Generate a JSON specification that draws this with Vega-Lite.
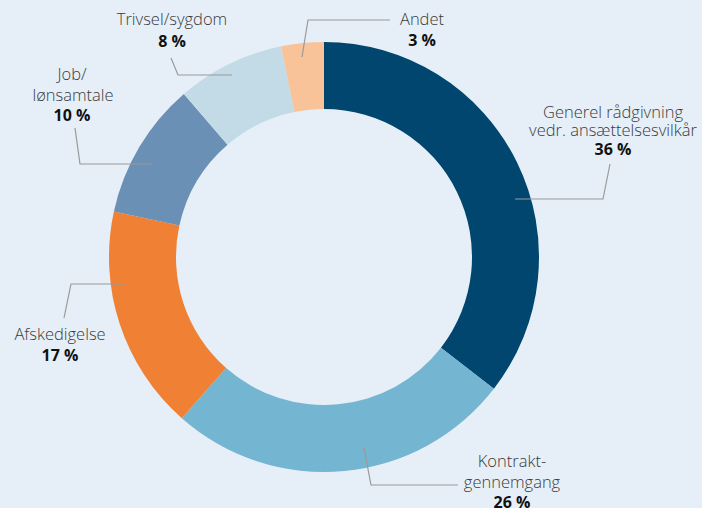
{
  "$schema": "https://vega.github.io/schema/vega-lite/v6.json",
  "width": 648,
  "height": 502,
  "autosize": {"type": "none"},
  "padding": {"left": 0, "top": 6, "right": 54, "bottom": 0},
  "background": "#e6eff7",
  "config": {"view": {"stroke": null}, "font": "Open Sans"},
  "datasets": {
    "slices": [
      {"idx": 1, "cat": "Generel rådgivning vedr. ansættelsesvilkår", "value": 35.5},
      {"idx": 2, "cat": "Kontraktgennemgang", "value": 26.0},
      {"idx": 3, "cat": "Afskedigelse", "value": 16.9},
      {"idx": 4, "cat": "Job/lønsamtale", "value": 10.3},
      {"idx": 5, "cat": "Trivsel/sygdom", "value": 8.1},
      {"idx": 6, "cat": "Andet", "value": 3.2}
    ],
    "labels": [
      {"x": 98, "y": 237, "text": "Andet"},
      {"x": -152, "y": 237, "text": "Trivsel/sygdom"},
      {"x": -252, "y": 182, "text": "Job/"},
      {"x": -251, "y": 161, "text": "lønsamtale"},
      {"x": 289, "y": 144, "text": "Generel rådgivning"},
      {"x": 289, "y": 126, "text": "vedr. ansættelsesvilkår"},
      {"x": -264, "y": -78, "text": "Afskedigelse"},
      {"x": 188, "y": -205, "text": "Kontrakt-"},
      {"x": 188, "y": -226, "text": "gennemgang"}
    ],
    "pcts": [
      {"x": 98, "y": 216, "text": "3 %"},
      {"x": -152, "y": 215, "text": "8 %"},
      {"x": -252, "y": 141, "text": "10 %"},
      {"x": 289, "y": 107, "text": "36 %"},
      {"x": -264, "y": -99, "text": "17 %"},
      {"x": 188, "y": -246, "text": "26 %"}
    ],
    "leaders": [
      {"id": "a", "seq": 1, "x": 66, "y": 237},
      {"id": "a", "seq": 2, "x": -16, "y": 237},
      {"id": "a", "seq": 3, "x": -22, "y": 200},
      {"id": "t", "seq": 1, "x": -153, "y": 199},
      {"id": "t", "seq": 2, "x": -146, "y": 182},
      {"id": "t", "seq": 3, "x": -92, "y": 182},
      {"id": "j", "seq": 1, "x": -249, "y": 129},
      {"id": "j", "seq": 2, "x": -244, "y": 93},
      {"id": "j", "seq": 3, "x": -172, "y": 93},
      {"id": "g", "seq": 1, "x": 286, "y": 93},
      {"id": "g", "seq": 2, "x": 279, "y": 58},
      {"id": "g", "seq": 3, "x": 191, "y": 58},
      {"id": "f", "seq": 1, "x": -260, "y": -61},
      {"id": "f", "seq": 2, "x": -253, "y": -27},
      {"id": "f", "seq": 3, "x": -199, "y": -27},
      {"id": "k", "seq": 1, "x": 40, "y": -191},
      {"id": "k", "seq": 2, "x": 47, "y": -228},
      {"id": "k", "seq": 3, "x": 134, "y": -228}
    ]
  },
  "layer": [
    {
      "data": {"name": "slices"},
      "mark": {"type": "arc", "outerRadius": 215, "innerRadius": 148},
      "encoding": {
        "theta": {"field": "value", "type": "quantitative", "stack": true},
        "order": {"field": "idx", "type": "quantitative"},
        "color": {
          "field": "cat",
          "type": "nominal",
          "legend": null,
          "scale": {
            "domain": ["Generel rådgivning vedr. ansættelsesvilkår", "Kontraktgennemgang", "Afskedigelse", "Job/lønsamtale", "Trivsel/sygdom", "Andet"],
            "range": ["#00466e", "#74b5d1", "#f08033", "#6b90b5", "#c2dbe7", "#f9c39a"]
          }
        }
      }
    },
    {
      "data": {"name": "leaders"},
      "mark": {"type": "line", "color": "#9a9a9a", "strokeWidth": 1.2, "clip": false},
      "encoding": {
        "x": {"field": "x", "type": "quantitative", "scale": {"domain": [-324, 324]}, "axis": null},
        "y": {"field": "y", "type": "quantitative", "scale": {"domain": [-251, 251]}, "axis": null},
        "detail": {"field": "id"},
        "order": {"field": "seq", "type": "quantitative"}
      }
    },
    {
      "data": {"name": "labels"},
      "mark": {"type": "text", "fontSize": 16.5, "fontWeight": 300, "color": "#3a3a3a", "baseline": "middle", "align": "center", "font": "Open Sans"},
      "encoding": {
        "x": {"field": "x", "type": "quantitative", "scale": {"domain": [-324, 324]}, "axis": null},
        "y": {"field": "y", "type": "quantitative", "scale": {"domain": [-251, 251]}, "axis": null},
        "text": {"field": "text"}
      }
    },
    {
      "data": {"name": "pcts"},
      "mark": {"type": "text", "fontSize": 16, "fontWeight": "bold", "color": "#111111", "baseline": "middle", "align": "center", "font": "Open Sans"},
      "encoding": {
        "x": {"field": "x", "type": "quantitative", "scale": {"domain": [-324, 324]}, "axis": null},
        "y": {"field": "y", "type": "quantitative", "scale": {"domain": [-251, 251]}, "axis": null},
        "text": {"field": "text"}
      }
    }
  ]
}
